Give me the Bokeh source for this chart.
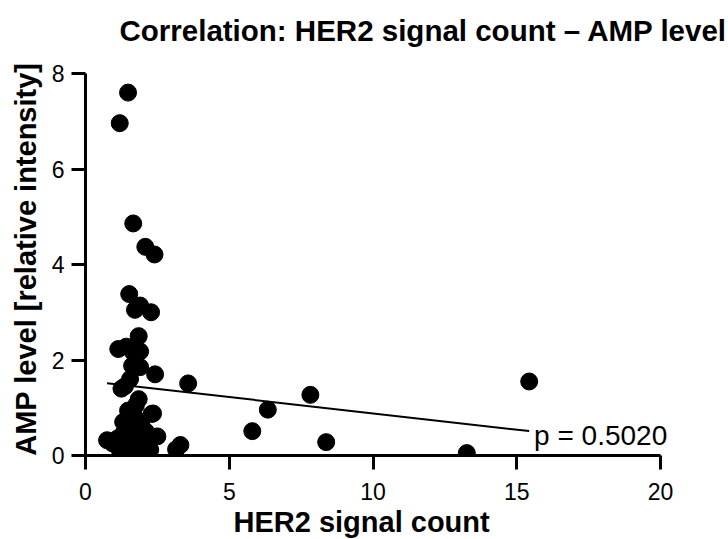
from bokeh.plotting import figure
from bokeh.models import Range1d, FixedTicker, Label, Title
from bokeh.embed import file_html
from bokeh.resources import INLINE
import numpy as np

# ---- data ----
her2_count = [
    3.57, 6.34, 7.82, 5.80, 8.37, 13.26, 15.43, 3.30, 3.15,
    1.48, 1.19, 1.66, 2.08, 2.40,
    1.52, 1.72, 1.90, 2.28,
    1.85, 1.14, 1.42, 1.90, 1.66,
    1.62, 1.90, 2.42, 1.55, 1.25, 1.37,
    1.85, 1.75, 1.48, 2.30, 1.62, 1.31, 1.72, 1.94, 2.35,
    0.75, 0.95, 1.10, 1.20, 1.30, 1.40, 1.50, 1.55, 1.65, 1.70,
    1.80, 1.90, 2.00, 2.20, 2.25, 2.50, 1.25, 1.45, 1.60, 1.80, 2.10,
]
amp_level = [
    1.51, 0.96, 1.27, 0.51, 0.28, 0.05, 1.55, 0.22, 0.13,
    7.60, 6.96, 4.86, 4.37, 4.21,
    3.38, 3.05, 3.14, 3.00,
    2.50, 2.23, 2.28, 2.18, 2.16,
    1.88, 1.85, 1.70, 1.60, 1.40, 1.45,
    1.18, 1.05, 0.94, 0.87, 0.87, 0.70, 0.80, 0.66, 0.88,
    0.32, 0.25, 0.35, 0.10, 0.45, 0.20, 0.55, 0.05, 0.30, 0.02,
    0.45, 0.20, 0.35, 0.25, 0.12, 0.40, 0.02, 0.35, 0.62, 0.12, 0.50,
]
fit_slope = -0.0683
fit_intercept = 1.565
p_text = "p = 0.5020"
title_text = "Correlation: HER2 signal count \u2013 AMP level"
x_label = "HER2 signal count"
y_label = "AMP level [relative intensity]"
x_ticks = [0, 5, 10, 15, 20]
y_ticks = [0, 2, 4, 6, 8]

FONT = "Liberation Sans"

# The frame fills the canvas above and to the right of the axes (axes limited to
# 0..20 and 0..8 via bounds) so the title and p-value text can sit inside it.
W, H = 728, 539
LEFT, BOTTOM = 84, 84
FRAME_W, FRAME_H = W - LEFT, H - BOTTOM
X_TOP = 20 * FRAME_W / 576
Y_TOP = 8 * FRAME_H / 382
p = figure(width=W, height=H, output_backend="svg", toolbar_location=None,
           x_range=Range1d(0, X_TOP), y_range=Range1d(0, Y_TOP),
           min_border_left=LEFT, min_border_right=0, min_border_top=0, min_border_bottom=BOTTOM)
p.title = None
p.outline_line_color = None
p.grid.visible = False
p.background_fill_color = "white"
p.border_fill_color = "white"

for ax in (p.xaxis[0], p.yaxis[0]):
    ax.axis_line_width = 3
    ax.axis_line_color = "black"
    ax.major_tick_line_width = 3
    ax.major_tick_line_color = "black"
    ax.major_tick_out = 14
    ax.major_tick_in = 0
    ax.minor_tick_line_color = None
    ax.major_label_text_font = FONT
    ax.major_label_text_font_size = "23px"
    ax.major_label_text_color = "black"

p.xaxis.bounds = (0, 20)
p.yaxis.bounds = (0, 8)
p.xaxis.ticker = FixedTicker(ticks=x_ticks)
p.yaxis.ticker = FixedTicker(ticks=y_ticks)
p.xaxis.major_label_standoff = 13
p.yaxis.major_label_standoff = 7

p.add_layout(Title(text=x_label, align="left", offset=148,
                   text_font=FONT, text_font_size="29px", text_font_style="bold",
                   text_color="black", standoff=2), "below")
p.add_layout(Title(text=y_label, align="right", offset=62,
                   text_font=FONT, text_font_size="29px", text_font_style="bold",
                   text_color="black", standoff=14), "left")

p.scatter(her2_count, amp_level, size=17, marker="circle", fill_color="black", line_color="black")

xs = np.array([min(her2_count), max(her2_count)])
p.line(xs, fit_slope * xs + fit_intercept, line_color="black", line_width=2)

p.add_layout(Label(x=15.6, y=0.42, text=p_text, text_baseline="middle", text_align="left",
                   text_font=FONT, text_font_size="28px", text_color="black"))

p.add_layout(Label(x=34, y=FRAME_H - 30, x_units="screen", y_units="screen",
                   text=title_text, text_baseline="alphabetic", text_align="left",
                   text_font=FONT, text_font_size="29.5px", text_font_style="bold",
                   text_color="black"))

open("out.html", "w").write(file_html(p, INLINE))
